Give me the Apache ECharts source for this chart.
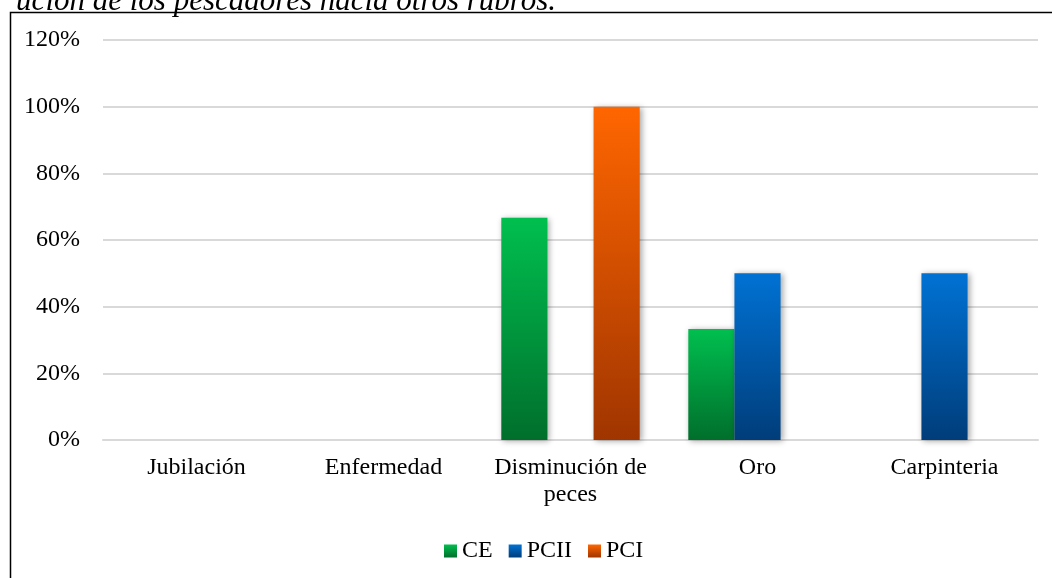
<!DOCTYPE html>
<html>
<head>
<meta charset="utf-8">
<script src="https://cdn.jsdelivr.net/npm/echarts@6/dist/echarts.min.js"></script>
<style>
  html, body { margin: 0; padding: 0; background: #fff; }
  #chart { width: 1052px; height: 578px; }
</style>
</head>
<body>
<div id="chart"></div>
<script>
// datos
const categories = ['Jubilación', 'Enfermedad', 'Disminución de\npeces', 'Oro', 'Carpinteria']
const ceValues = [0, 0, 66.67, 33.33, 0]
const pciiValues = [0, 0, 0, 50, 50]
const pciValues = [0, 0, 100, 0, 0]
const seriesNames = ['CE', 'PCII', 'PCI']
const yTicks = [0, 20, 40, 60, 80, 100, 120]

const FONT = "'Liberation Serif', 'Times New Roman', serif"

const grad = (top, bottom) => new echarts.graphic.LinearGradient(0, 0, 0, 1, [
  { offset: 0, color: top },
  { offset: 1, color: bottom }
])

const barStyle = (top, bottom) => ({
  color: grad(top, bottom),
  shadowBlur: 6,
  shadowColor: 'rgba(0, 0, 0, 0.35)',
  shadowOffsetX: 2,
  shadowOffsetY: 1
})

const chart = echarts.init(document.getElementById('chart'))

chart.setOption({
  animation: false,
  textStyle: { fontFamily: FONT, color: '#000' },
  graphic: [
    {
      type: 'text',
      right: 1052 - 556,
      top: -14,
      style: {
        text: 'ución de los pescadores hacia otros rubros.',
        font: 'italic 31px ' + FONT,
        fill: '#000'
      }
    },
    {
      type: 'rect',
      left: 8,
      top: 10,
      shape: { width: 1200, height: 700 },
      style: { fill: 'none', stroke: '#000', lineWidth: 1.5 },
      silent: true
    }
  ],
  legend: {
    data: seriesNames,
    left: 439,
    top: 534,
    icon: 'rect',
    itemWidth: 13,
    itemHeight: 13,
    itemGap: 16,
    textStyle: { fontFamily: FONT, fontSize: 24, color: '#000' }
  },
  grid: {
    left: 103,
    right: 14,
    top: 40,
    bottom: 138,
    containLabel: false
  },
  xAxis: {
    type: 'category',
    data: categories,
    axisLine: { show: true, lineStyle: { color: '#d9d9d9', width: 2 } },
    axisTick: { show: false },
    axisLabel: {
      fontFamily: FONT,
      fontSize: 24,
      lineHeight: 27,
      color: '#000',
      margin: 14,
      interval: 0
    }
  },
  yAxis: {
    type: 'value',
    min: yTicks[0],
    max: yTicks[yTicks.length - 1],
    interval: 20,
    axisLine: { show: false },
    axisTick: { show: false },
    axisLabel: {
      fontFamily: FONT,
      fontSize: 24,
      color: '#000',
      margin: 23,
      formatter: '{value}%'
    },
    splitLine: { lineStyle: { color: '#d9d9d9', width: 2 } }
  },
  series: [
    {
      name: 'CE',
      type: 'bar',
      data: ceValues,
      barGap: '0%',
      barCategoryGap: '26%',
      itemStyle: barStyle('#00bf4f', '#006f2c')
    },
    {
      name: 'PCII',
      type: 'bar',
      data: pciiValues,
      barGap: '0%',
      barCategoryGap: '26%',
      itemStyle: barStyle('#0072d4', '#003d7a')
    },
    {
      name: 'PCI',
      type: 'bar',
      data: pciValues,
      barGap: '0%',
      barCategoryGap: '26%',
      itemStyle: barStyle('#ff6600', '#a03500')
    }
  ]
})
</script>
</body>
</html>
